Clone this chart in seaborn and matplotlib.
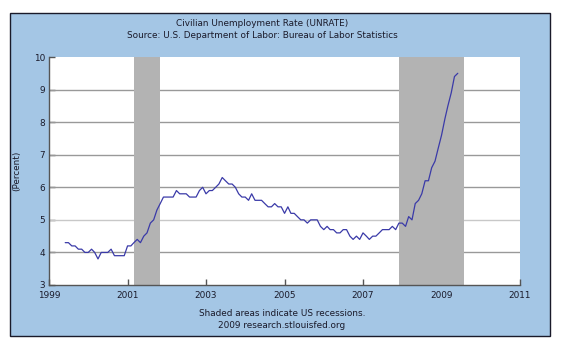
import matplotlib
matplotlib.use("Agg")
import matplotlib.pyplot as plt
import matplotlib.dates as mdates
from matplotlib.patches import Rectangle
import seaborn as sns
import pandas as pd

# ---- data ----
start_month = "1999-06-01"
unrate = [
    4.3, 4.3, 4.2, 4.2, 4.1, 4.1, 4.0,
    4.0, 4.1, 4.0, 3.8, 4.0, 4.0, 4.0, 4.1, 3.9, 3.9, 3.9, 3.9,
    4.2, 4.2, 4.3, 4.4, 4.3, 4.5, 4.6, 4.9, 5.0, 5.3, 5.5, 5.7,
    5.7, 5.7, 5.7, 5.9, 5.8, 5.8, 5.8, 5.7, 5.7, 5.7, 5.9, 6.0,
    5.8, 5.9, 5.9, 6.0, 6.1, 6.3, 6.2, 6.1, 6.1, 6.0, 5.8, 5.7,
    5.7, 5.6, 5.8, 5.6, 5.6, 5.6, 5.5, 5.4, 5.4, 5.5, 5.4, 5.4,
    5.2, 5.4, 5.2, 5.2, 5.1, 5.0, 5.0, 4.9, 5.0, 5.0, 5.0, 4.8,
    4.7, 4.8, 4.7, 4.7, 4.6, 4.6, 4.7, 4.7, 4.5, 4.4, 4.5, 4.4,
    4.6, 4.5, 4.4, 4.5, 4.5, 4.6, 4.7, 4.7, 4.7, 4.8, 4.7, 4.9,
    4.9, 4.8, 5.1, 5.0, 5.5, 5.6, 5.8, 6.2, 6.2, 6.6, 6.8, 7.2,
    7.6, 8.1, 8.5, 8.9, 9.4, 9.5,
]
recession_starts = ["2001-03-01", "2007-12-01"]
recession_ends = ["2001-11-01", "2009-08-01"]
x_tick_years = [1999, 2001, 2003, 2005, 2007, 2009, 2011]
y_ticks = [3, 4, 5, 6, 7, 8, 9, 10]

title_lines = ["Civilian Unemployment Rate (UNRATE)",
               "Source: U.S. Department of Labor: Bureau of Labor Statistics"]
footer_lines = ["Shaded areas indicate US recessions.",
                "2009 research.stlouisfed.org"]
y_label = "(Percent)"

df = pd.DataFrame({
    "date": pd.date_range(start_month, periods=len(unrate), freq="MS"),
    "value": unrate,
})

# ---- figure ----
sns.set_theme(style="white")
plt.rcParams["font.family"] = ["DejaVu Sans"]

W, H = 563, 345
fig = plt.figure(figsize=(W / 100, H / 100), dpi=100)
fig.patch.set_facecolor("white")

panel_color = "#a4c6e5"
txt_color = "#1a1a2a"
fs = 6.4
fig.patches.append(Rectangle((10 / W, 1 - 336 / H), 540 / W, 323 / H,
                             transform=fig.transFigure, facecolor=panel_color,
                             edgecolor="#1a1a2a", linewidth=1.0, zorder=-10))

ax = fig.add_axes([49 / W, 1 - 285 / H, (520 - 49) / W, (285 - 57) / H])
ax.set_zorder(5)
ax.set_facecolor("white")

for yv in y_ticks[1:-1]:
    ax.axhline(yv, color="#999999" if yv != 5 else "#c8c8c8", linewidth=1.0, zorder=1)

for s, e in zip(recession_starts, recession_ends):
    ax.axvspan(pd.Timestamp(s), pd.Timestamp(e), color="#b3b3b3", linewidth=0, zorder=2)

sns.lineplot(data=df, x="date", y="value", ax=ax, color="#3a3aa8",
             linewidth=0.9, zorder=3)

ax.set_xlim(pd.Timestamp("1999-01-01"), pd.Timestamp("2011-01-01"))
ax.set_ylim(3, 10)
ax.set_xticks([pd.Timestamp(f"{y}-01-01") for y in x_tick_years])
ax.xaxis.set_major_formatter(mdates.DateFormatter("%Y"))
ax.set_yticks(y_ticks)
ax.set_xlabel("")
ax.set_ylabel(y_label, fontsize=fs, color=txt_color, labelpad=9)

for side in ["top", "right"]:
    ax.spines[side].set_visible(False)
for side in ["left", "bottom"]:
    ax.spines[side].set_color("#555555")
    ax.spines[side].set_linewidth(1.0)

ax.tick_params(axis="both", which="major", direction="in", length=4, width=1,
               color="#555555", labelsize=fs, labelcolor=txt_color, pad=3,
               left=True, bottom=True)
ax.tick_params(axis="x", pad=4)

fig.text(262 / W, 1 - 23 / H, title_lines[0], ha="center", va="center",
         fontsize=fs, color=txt_color)
fig.text(262 / W, 1 - 35 / H, title_lines[1], ha="center", va="center",
         fontsize=fs, color=txt_color)
fig.text(282 / W, 1 - 313 / H, footer_lines[0], ha="center", va="center",
         fontsize=fs, color=txt_color)
fig.text(282 / W, 1 - 326 / H, footer_lines[1], ha="center", va="center",
         fontsize=fs, color=txt_color)

fig.savefig("out.png", dpi=100, facecolor="white")
